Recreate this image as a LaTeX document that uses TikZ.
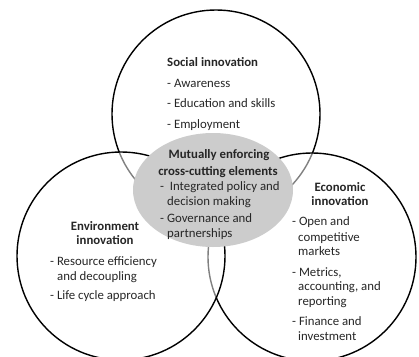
\documentclass[tikz,border=0pt]{standalone}
\usepackage{fontspec}
\setmainfont{Carlito}
\begin{document}
\begin{tikzpicture}[x=1pt,y=-1pt,
  ring/.style={line width=1.4pt,draw=black},
  veil/.style={ring,fill=white,fill opacity=0.5},
  txt/.style={inner sep=0pt,font=\fontsize{12.8}{15}\selectfont,text=black!85,text height=8.6pt,text depth=2.6pt},
  lft/.style={txt,anchor=west},
  hd/.style={txt,font=\fontsize{12.8}{15}\selectfont\bfseries,anchor=center},
  hdl/.style={txt,font=\fontsize{12.8}{15}\selectfont\bfseries,anchor=west}]
\useasboundingbox (0,0) rectangle (419,356);
\draw[ring] (216,114) circle (104pt);
\draw[veil] (312,257) circle (104pt);
\draw[veil] (121,256) circle (104pt);
\fill[black!20] (213,190) ellipse [x radius=80pt,y radius=57pt];
% social
\node[hdl] (s0) at (167,63) {Social innovation};
\node[lft] (s1) at (167,84) {- Awareness};
\node[lft] (s2) at (167,104) {- Education and skills};
\node[lft] (s3) at (167,125) {- Employment};
% center
\node[hd] (m0) at (219,155) {Mutually enforcing};
\node[hd] (m1) at (218,172) {cross-cutting elements};
\node[lft] (m2) at (160,187) {-\ \ Integrated policy and};
\node[lft] (m3) at (167,202) {decision making};
\node[lft] (m4) at (160,219) {- Governance and};
\node[lft] (m5) at (167,234) {partnerships};
% environment
\node[hd] (e0) at (105,227) {Environment};
\node[hd] (e1) at (105,241) {innovation};
\node[lft] (e2) at (50,262) {- Resource efficiency};
\node[lft] (e3) at (57,277) {and decoupling};
\node[lft] (e4) at (50,296) {- Life cycle approach};
% economic
\node[hd] (c0) at (340,188) {Economic};
\node[hd] (c1) at (340,202) {innovation};
\node[lft] (c2) at (292,222) {- Open and};
\node[lft] (c3) at (298,238) {competitive};
\node[lft] (c4) at (298,252) {markets};
\node[lft] (c5) at (292,273) {- Metrics,};
\node[lft] (c6) at (298,287) {accounting, and};
\node[lft] (c7) at (298,302) {reporting};
\node[lft] (c8) at (292,322) {- Finance and};
\node[lft] (c9) at (298,337) {investment};
\end{tikzpicture}
\end{document}
